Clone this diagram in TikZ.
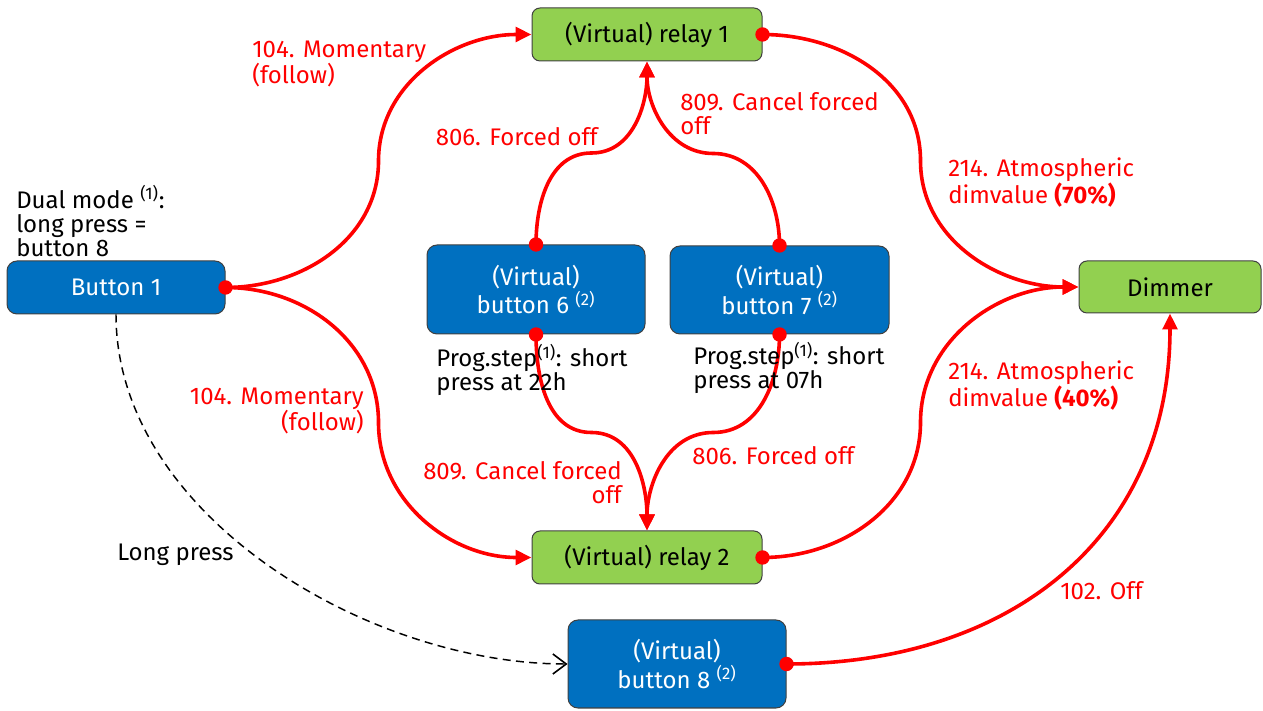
\documentclass[tikz,border=0pt]{standalone}
\usepackage{fontspec}
\setmainfont{Fira Sans}
\usetikzlibrary{arrows.meta,calc}
\definecolor{bblue}{HTML}{0070C0}
\definecolor{rgreen}{HTML}{92D050}
\definecolor{lred}{HTML}{FF0000}
\definecolor{bord}{HTML}{404040}
\begin{document}
\begin{tikzpicture}[x=0.75pt,y=0.75pt,
  font=\fontsize{18pt}{18pt}\selectfont,
  btn/.style={draw=bord,line width=0.75pt,fill=bblue,text=white,rounded corners=7.5pt,inner sep=0pt,align=center},
  rly/.style={draw=bord,line width=0.75pt,fill=rgreen,text=black,rounded corners=6pt,inner sep=0pt,align=center},
  conn/.style={draw=lred,line width=2.7pt},
  tip/.style={-{Triangle[length=12pt,width=11pt]}},
  dot/.style={fill=lred},
  lbl/.style={text=lred,inner sep=0pt},
  note/.style={text=black,inner sep=0pt,align=left}]
\useasboundingbox (0,0) rectangle (1263,710);
% nodes
\node[btn,minimum width=163.5pt,minimum height=39.75pt] (b1) at (116,422.5) {Button 1};
\node[rly,minimum width=172.5pt,minimum height=39.75pt] (r1) at (647,675.5) {(Virtual) relay 1};
\node[btn,minimum width=163.5pt,minimum height=66.75pt] (b6) at (536,420.5) {(Virtual)\\[0.5pt]button 6 \textsuperscript{(2)}};
\node[btn,minimum width=164.25pt,minimum height=66pt] (b7) at (779.5,420) {(Virtual)\\[0.5pt]button 7 \textsuperscript{(2)}};
\node[rly,minimum width=136.5pt,minimum height=39pt] (dim) at (1170,423) {Dimmer};
\node[rly,minimum width=172.5pt,minimum height=39.75pt] (r2) at (647,152.5) {(Virtual) relay 2};
\node[btn,minimum width=163.5pt,minimum height=66pt] (b8) at (677,46) {(Virtual)\\[0.5pt]button 8 \textsuperscript{(2)}};
% midpoints of the S-shaped connectors
\coordinate (m1) at ($(b1.east)!0.5!(r1.west)$);
\coordinate (m2) at ($(b1.east)!0.5!(r2.west)$);
\coordinate (m3) at ($(b6.north)!0.5!(r1.south)$);
\coordinate (m4) at ($(b7.north)!0.5!(r1.south)$);
\coordinate (m5) at ($(b6.south)!0.5!(r2.north)$);
\coordinate (m6) at ($(b7.south)!0.5!(r2.north)$);
\coordinate (m7) at ($(r1.east)!0.5!(dim.west)$);
\coordinate (m8) at ($(r2.east)!0.5!(dim.west)$);
% connectors
\draw[conn,tip] (b1.east) to[out=0,in=-90] (m1) to[out=90,in=180] (r1.west);
\draw[conn,tip] (b1.east) to[out=0,in=90] (m2) to[out=-90,in=180] (r2.west);
\draw[conn,tip] (b6.north) to[out=90,in=180] (m3) to[out=0,in=-90] (r1.south);
\draw[conn,tip] (b7.north) to[out=90,in=0] (m4) to[out=180,in=-90] (r1.south);
\draw[conn,tip] (b6.south) to[out=-90,in=180] (m5) to[out=0,in=90] (r2.north);
\draw[conn,tip] (b7.south) to[out=-90,in=0] (m6) to[out=180,in=90] (r2.north);
\draw[conn,tip] (r1.east) to[out=0,in=90] (m7) to[out=-90,in=180] (dim.west);
\draw[conn,tip] (r2.east) to[out=0,in=-90] (m8) to[out=90,in=180] (dim.west);
\draw[conn,tip] (b8.east) to[out=0,in=-90,looseness=1.1] (dim.south);
\draw[black,line width=1.1pt,dash pattern=on 6pt off 4pt,-{Straight Barb[length=10pt,width=15pt,line width=1.2pt]}] (b1.south) .. controls +(0,-200) and +(-200,0) .. (b8.west);
% dots
\foreach \p in {b1.east,b6.north,b7.north,b6.south,b7.south,r1.east,r2.east,b8.east}
  \fill[dot] (\p) circle (5.4pt);
% labels
\node[lbl,anchor=west,align=left] (l1) at (252,646) {104. Momentary\\(follow)};
\node[lbl,anchor=east,align=right] (l2) at (364,299) {104. Momentary\\(follow)};
\node[lbl,anchor=east] (l3) at (598,573) {806. Forced off};
\node[lbl,anchor=west,align=left] (l4) at (680,596) {809. Cancel forced\\off};
\node[lbl,anchor=east,align=right] (l5) at (622,227) {809. Cancel forced\\off};
\node[lbl,anchor=west] (l6) at (692,254) {806. Forced off};
\node[lbl,anchor=west,align=left] (l7) at (948,527) {214. Atmospheric\\dimvalue \textbf{(70\%)}};
\node[lbl,anchor=west,align=left] (l8) at (948,324) {214. Atmospheric\\dimvalue \textbf{(40\%)}};
\node[lbl,anchor=west] (l9) at (1060,119) {102. Off};
\node[note,anchor=west] (l10) at (117,155) {Long press};
\node[note,anchor=west] (a1) at (16,489) {Dual mode \textsuperscript{(1)}:\\long press =\\button 8};
\node[note,anchor=west] (a2) at (436,340) {Prog.step\textsuperscript{(1)}: short\\press at 22h};
\node[note,anchor=west] (a3) at (693,342) {Prog.step\textsuperscript{(1)}: short\\press at 07h};
\end{tikzpicture}
\end{document}
